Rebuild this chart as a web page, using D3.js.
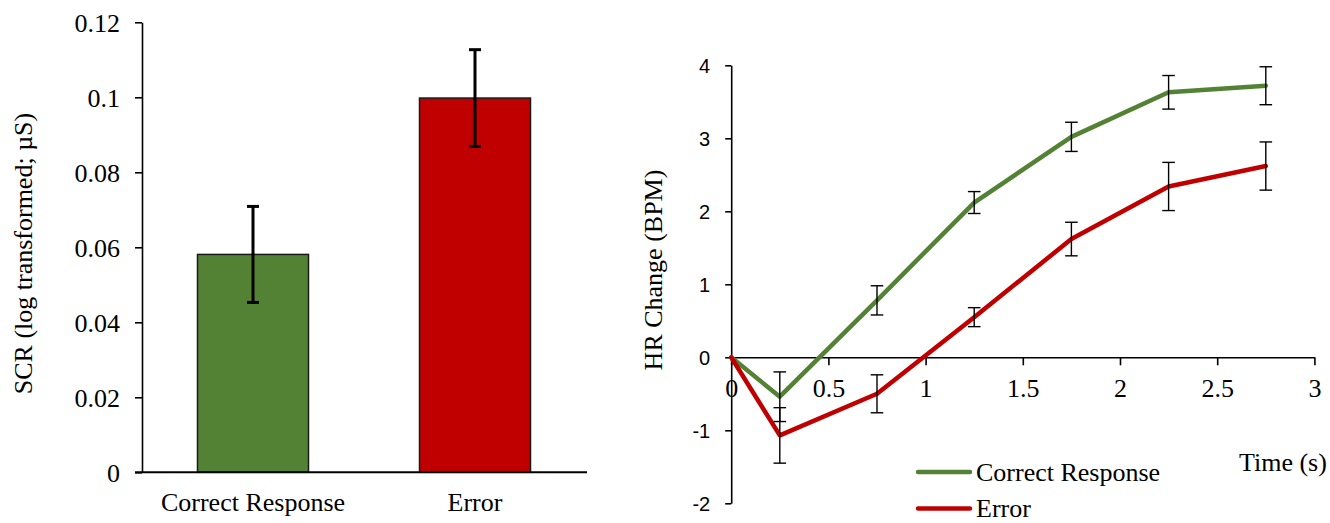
<!DOCTYPE html>
<html>
<head>
<meta charset="utf-8">
<script src="https://cdn.jsdelivr.net/npm/d3@7"></script>
<style>
  html, body { margin: 0; padding: 0; background: #fff; }
  svg { display: block; }
</style>
</head>
<body>
<svg id="chart" width="1330" height="523"></svg>
<script>
// Skin conductance response by trial outcome
const categories = ["Correct Response", "Error"];
const scrMeans = [0.0581, 0.0998];
const scrErrors = [0.0128, 0.0129];
const scrTicks = [0, 0.02, 0.04, 0.06, 0.08, 0.1, 0.12];

// Heart-rate change over time after the response
const timePoints = [0, 0.25, 0.75, 1.25, 1.75, 2.25, 2.75];
const correctHR = [0, -0.54, 0.78, 2.12, 3.02, 3.63, 3.72];
const correctHRErr = [null, 0.34, 0.20, 0.15, 0.20, 0.23, 0.26];
const errorHR = [0, -1.07, -0.50, 0.55, 1.62, 2.34, 2.62];
const errorHRErr = [null, 0.38, 0.26, 0.13, 0.23, 0.33, 0.33];
const hrTicks = [-2, -1, 0, 1, 2, 3, 4];
const timeTicks = [0, 0.5, 1, 1.5, 2, 2.5, 3];

const seriesNames = ["Correct Response", "Error"];
const colors = ["#548235", "#C00000"];

const serif = "'Liberation Serif', 'Times New Roman', serif";
const sans = "'Liberation Sans', Arial, sans-serif";

const svg = d3.select("#chart");

/* ---------- Left panel: bar chart ---------- */
const left = svg.append("g");
const bx = d3.scaleBand().domain(categories).range([142, 586])
  .paddingInner(0.5).paddingOuter(0.25);
const by = d3.scaleLinear().domain([0, 0.12]).range([472.3, 22.3]);

// y axis
const yAxisL = left.append("g")
  .attr("transform", `translate(${bx.range()[0]},0)`)
  .call(d3.axisLeft(by).tickValues(scrTicks).tickSize(7).tickSizeOuter(0)
    .tickPadding(15).tickFormat(d => String(+d.toFixed(2))));
yAxisL.select(".domain").attr("stroke", "#000").attr("stroke-width", 1.6);
yAxisL.selectAll(".tick line").attr("stroke", "#000").attr("stroke-width", 1.6);
yAxisL.selectAll(".tick text")
  .attr("font-family", serif).attr("font-size", 26).attr("fill", "#000")
  .attr("dy", "0.34em");

// bars
left.selectAll("rect.bar").data(categories).join("rect")
  .attr("class", "bar")
  .attr("x", d => bx(d))
  .attr("width", bx.bandwidth())
  .attr("y", (d, i) => by(scrMeans[i]))
  .attr("height", (d, i) => by(0) - by(scrMeans[i]))
  .attr("fill", (d, i) => colors[i])
  .attr("stroke", "#1a1a1a").attr("stroke-width", 1.5);

// category axis / baseline
const xAxisL = left.append("g")
  .attr("transform", `translate(0,${by(0)})`)
  .call(d3.axisBottom(bx).tickSize(0).tickSizeOuter(0));
xAxisL.select(".domain").remove();
xAxisL.selectAll(".tick text")
  .attr("font-family", serif).attr("font-size", 26).attr("fill", "#000")
  .attr("y", 39).attr("dy", 0);
left.append("line")
  .attr("x1", bx.range()[0] - 7).attr("x2", bx.range()[1] + 1)
  .attr("y1", by(0)).attr("y2", by(0))
  .attr("stroke", "#000").attr("stroke-width", 2);

// error bars
const capL = 6;
categories.forEach((c, i) => {
  const cx = bx(c) + bx.bandwidth() / 2;
  const top = by(scrMeans[i] + scrErrors[i]);
  const bot = by(scrMeans[i] - scrErrors[i]);
  const g = left.append("g").attr("stroke", "#000").attr("stroke-width", 3);
  g.append("line").attr("x1", cx).attr("x2", cx).attr("y1", top).attr("y2", bot);
  g.append("line").attr("x1", cx - capL).attr("x2", cx + capL).attr("y1", top).attr("y2", top);
  g.append("line").attr("x1", cx - capL).attr("x2", cx + capL).attr("y1", bot).attr("y2", bot);
});

// y title
left.append("text")
  .attr("transform", `translate(32,253.5) rotate(-90)`)
  .attr("text-anchor", "middle")
  .attr("font-family", serif).attr("font-size", 26).attr("fill", "#000")
  .text("SCR (log transformed; \u00B5S)");

/* ---------- Right panel: line chart ---------- */
const right = svg.append("g");
const lx = d3.scaleLinear().domain([0, 3]).range([731.2, 1314.4]);
const ly = d3.scaleLinear().domain([-2, 4]).range([503.3, 65.3]);

// y axis
const yAxisR = right.append("g")
  .attr("transform", `translate(${lx(0)},0)`)
  .call(d3.axisLeft(ly).tickValues(hrTicks).tickSize(6).tickSizeOuter(0)
    .tickPadding(15).tickFormat(d => String(d)));
yAxisR.select(".domain").attr("stroke", "#000").attr("stroke-width", 1.6);
yAxisR.selectAll(".tick line").attr("stroke", "#000").attr("stroke-width", 1.6);
yAxisR.selectAll(".tick text")
  .attr("font-family", sans).attr("font-size", 20).attr("fill", "#000")
  .attr("dy", "0.35em");

// x axis through zero
const xAxisR = right.append("g")
  .attr("transform", `translate(0,${ly(0)})`)
  .call(d3.axisBottom(lx).tickValues(timeTicks).tickSize(8).tickSizeOuter(0)
    .tickFormat(d => String(d)));
xAxisR.select(".domain").attr("stroke", "#000").attr("stroke-width", 1.6);
xAxisR.selectAll(".tick line").attr("stroke", "#000").attr("stroke-width", 1.6);
xAxisR.selectAll(".tick text")
  .attr("font-family", serif).attr("font-size", 26).attr("fill", "#000")
  .attr("y", 40).attr("dy", 0);

// series lines
const series = [
  { name: seriesNames[0], values: correctHR, errs: correctHRErr, color: colors[0] },
  { name: seriesNames[1], values: errorHR, errs: errorHRErr, color: colors[1] }
];
const line = d3.line().x(d => lx(d[0])).y(d => ly(d[1]));
series.forEach(s => {
  right.append("path")
    .datum(timePoints.map((t, i) => [t, s.values[i]]))
    .attr("d", line)
    .attr("fill", "none")
    .attr("stroke", s.color)
    .attr("stroke-width", 4.5)
    .attr("stroke-linejoin", "round")
    .attr("stroke-linecap", "round");
});

// error bars
const capR = 6.3;
series.forEach(s => {
  timePoints.forEach((t, i) => {
    if (s.errs[i] == null) return;
    const cx = lx(t);
    const top = ly(s.values[i] + s.errs[i]);
    const bot = ly(s.values[i] - s.errs[i]);
    const g = right.append("g").attr("stroke", "#000").attr("stroke-width", 1.4);
    g.append("line").attr("x1", cx).attr("x2", cx).attr("y1", top).attr("y2", bot);
    g.append("line").attr("x1", cx - capR).attr("x2", cx + capR).attr("y1", top).attr("y2", top);
    g.append("line").attr("x1", cx - capR).attr("x2", cx + capR).attr("y1", bot).attr("y2", bot);
  });
});

// y title
right.append("text")
  .attr("transform", `translate(662,270) rotate(-90)`)
  .attr("text-anchor", "middle")
  .attr("font-family", serif).attr("font-size", 26).attr("fill", "#000")
  .text("HR Change (BPM)");

// x title
right.append("text")
  .attr("x", 1239).attr("y", 471)
  .attr("font-family", serif).attr("font-size", 26).attr("fill", "#000")
  .text("Time (s)");

// legend
const legend = right.append("g").attr("transform", "translate(918,472)");
series.forEach((s, i) => {
  const row = legend.append("g").attr("transform", `translate(0,${i * 36.5})`);
  row.append("line")
    .attr("x1", 0).attr("x2", 52).attr("y1", 0).attr("y2", 0)
    .attr("stroke", s.color).attr("stroke-width", 4.5).attr("stroke-linecap", "round");
  row.append("text")
    .attr("x", 58).attr("y", 8.5)
    .attr("font-family", serif).attr("font-size", 26).attr("fill", "#000")
    .text(s.name);
});
</script>
</body>
</html>
